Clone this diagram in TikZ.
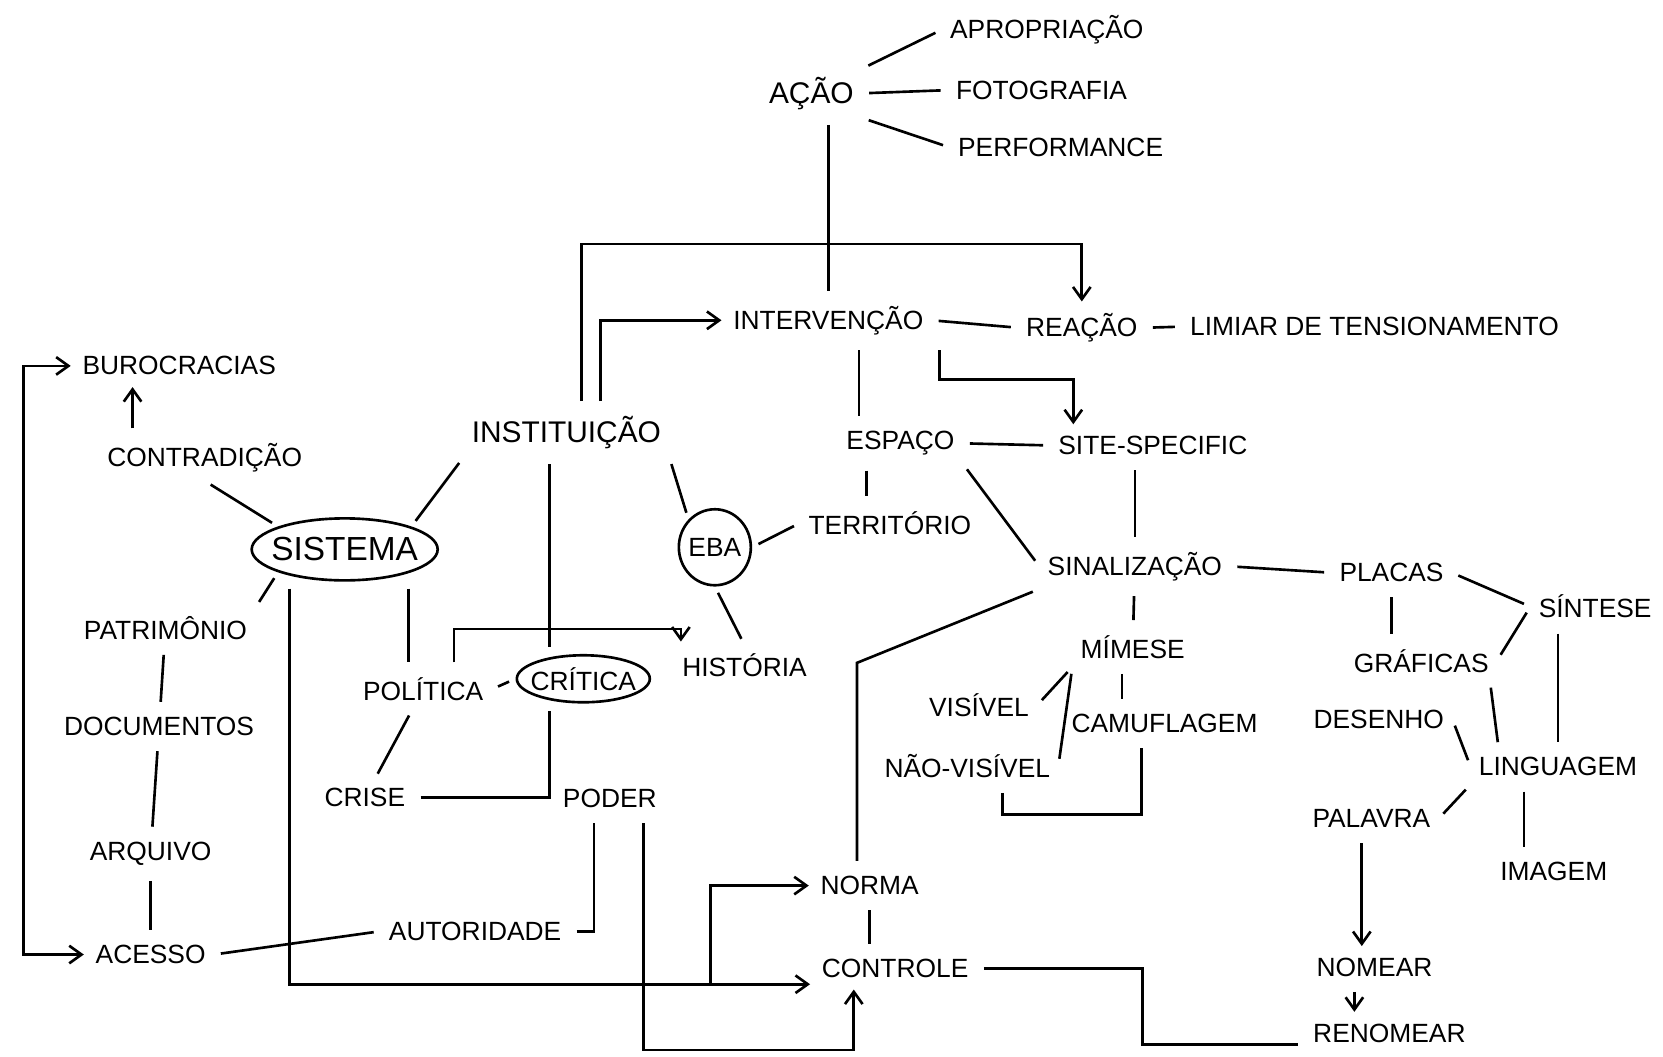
\documentclass[tikz,border=0pt]{standalone}
\usepackage{fontspec}
\setmainfont{Liberation Sans}
\usetikzlibrary{arrows.meta,shapes.geometric}
\begin{document}
\begin{tikzpicture}[x=0.10606mm,y=-0.10606mm,line width=0.75pt,
  >={Straight Barb[length=3.5pt,width=5pt]},
  lbl/.style={font=\fontsize{7.5}{9}\selectfont,inner sep=2pt},
  biglbl/.style={lbl,font=\fontsize{8.5}{10}\selectfont},
  oval/.style={lbl,ellipse,draw,inner xsep=-2pt,inner ysep=0pt},
  ln/.style={shorten <=2pt,shorten >=2pt},
  arr/.style={->,shorten <=2pt,shorten >=1pt}]
% map of concepts, hand-drawn original
\fill[white] (0,0) rectangle (1568,996);
\useasboundingbox (0,0) rectangle (1568,996);
\node[biglbl] (acao) at (765,88) {AÇÃO};
\node[lbl] (aprop) at (987,28) {APROPRIAÇÃO};
\node[lbl] (foto) at (982,85) {FOTOGRAFIA};
\node[lbl] (perf) at (1000,139) {PERFORMANCE};
\node[lbl] (interv) at (781,302) {INTERVENÇÃO};
\node[lbl] (reacao) at (1020,309) {REAÇÃO};
\node[lbl] (limiar) at (1296,308) {LIMIAR DE TENSIONAMENTO};
\node[biglbl] (instit) at (534,408) {INSTITUIÇÃO};
\node[lbl] (espaco) at (849,418) {ESPAÇO};
\node[lbl] (site) at (1087,420) {SITE-SPECIFIC};
\node[lbl] (territ) at (839,493) {TERRITÓRIO};
\node[lbl] (sinal) at (1070,534) {SINALIZAÇÃO};
\node[oval,font=\fontsize{9.5}{11}\selectfont,inner xsep=-2.5pt,
  minimum width=18.6mm,minimum height=6.2mm] (sistema) at (325,518) {SISTEMA};
\node[oval,minimum width=7.2mm,minimum height=7.6mm] (eba) at (674,516) {EBA};
\node[oval,minimum width=13.3mm,minimum height=4.7mm] (critica) at (550,640) {CRÍTICA};
\node[lbl] (historia) at (702,627) {HISTÓRIA};
\node[lbl] (contrad) at (193,432) {CONTRADIÇÃO};
\node[lbl] (buro) at (169,345) {BUROCRACIAS};
\node[lbl] (patrim) at (156,592) {PATRIMÔNIO};
\node[lbl] (docs) at (150,685) {DOCUMENTOS};
\node[lbl] (arquivo) at (142,805) {ARQUIVO};
\node[lbl] (acesso) at (142,900) {ACESSO};
\node[lbl] (autor) at (448,878) {AUTORIDADE};
\node[lbl] (politica) at (399,650) {POLÍTICA};
\node[lbl] (crise) at (344,752) {CRISE};
\node[lbl] (poder) at (575,753) {PODER};
\node[lbl] (norma) at (820,835) {NORMA};
\node[lbl] (controle) at (844,913) {CONTROLE};
\node[lbl] (mimese) at (1068,610) {MÍMESE};
\node[lbl] (visivel) at (923,665) {VISÍVEL};
\node[lbl] (naovis) at (912,722) {NÃO-VISÍVEL};
\node[lbl] (camuf) at (1098,682) {CAMUFLAGEM};
\node[lbl] (placas) at (1312,540) {PLACAS};
\node[lbl] (graficas) at (1340,623) {GRÁFICAS};
\node[lbl] (sintese) at (1504,572) {SÍNTESE};
\node[lbl] (desenho) at (1300,678) {DESENHO};
\node[lbl] (linguagem) at (1469,723) {LINGUAGEM};
\node[lbl] (palavra) at (1293,772) {PALAVRA};
\node[lbl] (imagem) at (1465,822) {IMAGEM};
\node[lbl] (nomear) at (1296,912) {NOMEAR};
\node[lbl] (renomear) at (1310,974) {RENOMEAR};
% bends
\coordinate (b1) at (548,230);
\coordinate (b2) at (566,0);
\coordinate (b3) at (886,358);
\coordinate (b4) at (1012,358);
\coordinate (c1) at (810,0);
\coordinate (c2) at (817,0);
\coordinate (c3) at (518,0);
\coordinate (c4) at (125,0);
\coordinate (c5) at (22,0);
\coordinate (c6) at (560,0);
\coordinate (c7) at (273,0);
\coordinate (c8) at (670,928);
\coordinate (c9) at (607,0);
\coordinate (c10) at (805,990);
\coordinate (c11) at (1077,985);
\coordinate (c12) at (1277,0);
\coordinate (c13) at (385,0);
\coordinate (c14) at (428,0);
\coordinate (c15) at (642,593);
\coordinate (c16) at (808,625);
\coordinate (c17) at (1058,0);
\coordinate (c18) at (945,0);
\coordinate (c19) at (1076,768);
\coordinate (c20) at (1437,0);
\coordinate (c21) at (1284,0);
\draw[ln] (acao.north east) -- (aprop.west);
\draw[ln] (acao.east) -- (foto.west);
\draw[ln] (acao.south east) -- (perf.west);
\draw[ln] (acao.south -| interv) -- (interv.north);
\draw[arr] (instit.north -| b1) -- (b1) -| (reacao.north);
\draw[arr] (instit.north -| b2) |- (interv.west);
\draw[ln] (interv.east) -- (reacao.west);
\draw[ln] (reacao.east) -- (limiar.west);
\draw[arr] (interv.south -| b3) -- (b3) -- (b4) -- (b4 |- site.north);
\draw[ln] (interv.south -| c1) -- (espaco.north -| c1);
\draw[ln] (espaco.east) -- (site.west);
\draw[ln] (espaco.south -| c2) -- (territ.north -| c2);
\draw[ln] (espaco.south east) -- (sinal.west);
\draw[ln] (site.south -| sinal.north) -- (sinal.north);
\draw[ln] (instit.south west) -- (sistema.north east);
\draw[ln] (instit.south -| c3) -- (critica.north -| c3);
\draw[ln] (instit.south east) -- (eba.north west);
\draw[ln] (eba.east) -- (territ.west);
\draw[ln] (eba.south) -- (historia.north);
\draw[arr] (contrad.north -| c4) -- (buro.south -| c4);
\draw[ln] (contrad.south) -- (sistema.north west);
\draw[ln] (sistema.south west) -- (patrim.north east);
\draw[ln] (patrim) -- (docs);
\draw[ln] (docs) -- (arquivo);
\draw[ln] (arquivo) -- (acesso);
\draw[<->,shorten <=1pt,shorten >=1pt] (buro.west) -| (c5 |- acesso.west) -- (acesso.west);
\draw[ln] (acesso.east) -- (autor.west);
\draw[ln] (autor.east) -| (c6 |- poder.south);
\draw[arr] (sistema.south -| c7) |- (c8) -- (c8 -| controle.west);
\draw[arr,shorten <=0pt] (c8) |- (norma.west);
\draw[ln] (norma) -- (controle.north -| norma);
\draw[arr] (poder.south -| c9) |- (c10) -- (c10 |- controle.south);
\draw[ln] (controle.east) -| (c11) -- (c11 -| renomear.west);
\draw[arr] (nomear.south -| c12) -- (renomear.north -| c12);
\draw[ln] (sistema.south -| c13) -- (politica.north -| c13);
\draw[ln] (politica.east) -- (critica.west);
\draw[arr] (politica.north -| c14) |- (c15) -- (c15 |- historia.north);
\draw[ln] (politica) -- (crise);
\draw[ln] (crise.east) -| (critica.south -| c3);
\draw[ln] (sinal.south west) -- (c16) -- (norma.north -| c16);
\draw[ln] (sinal) -- (mimese);
\draw[ln] (mimese.south west) -- (visivel.east);
\draw[ln] (mimese.south west) -- (naovis.east);
\draw[ln] (mimese.south -| c17) -- (camuf.north -| c17);
\draw[ln] (naovis.south -| c18) |- (c19) -- (camuf.south -| c19);
\draw[ln] (sinal.east) -- (placas.west);
\draw[ln] (placas.south) -- (graficas.north -| placas.south);
\draw[ln] (placas.east) -- (sintese.west);
\draw[ln] (graficas.east) -- (sintese.west);
\draw[ln] (sintese.south -| linguagem.north) -- (linguagem.north);
\draw[ln] ([xshift=-2pt]graficas.south east) -- ([xshift=8pt]linguagem.north west);
\draw[ln] (desenho.east) -- (linguagem.west);
\draw[ln] (linguagem.south west) -- (palavra.east);
\draw[ln] (linguagem.south -| c20) -- (imagem.north -| c20);
\draw[arr] (palavra.south -| c21) -- (nomear.north -| c21);
\end{tikzpicture}
\end{document}
